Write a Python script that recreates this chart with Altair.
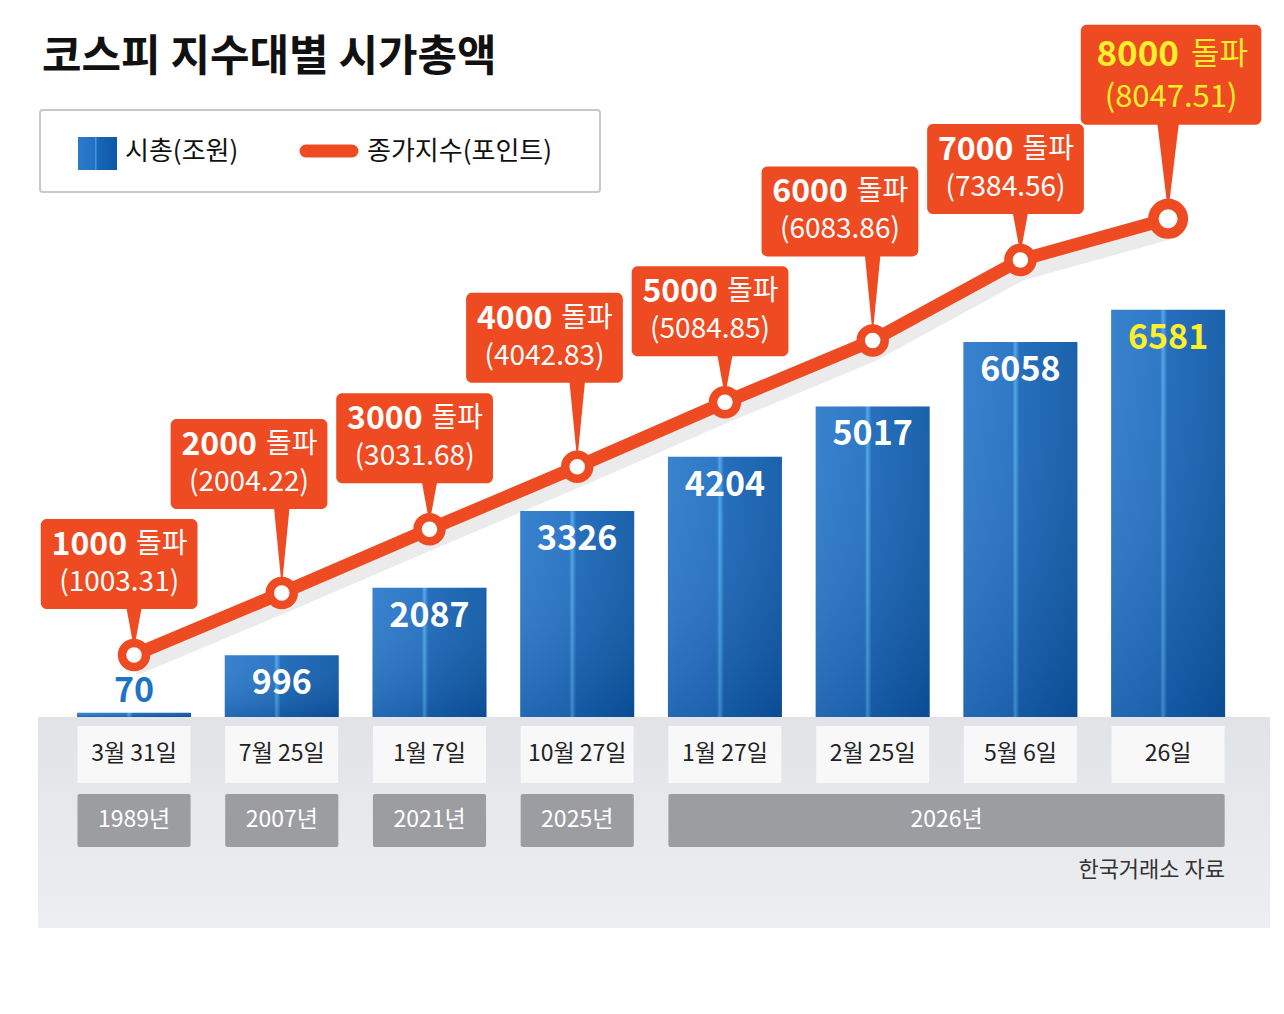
import altair as alt
import pandas as pd

# ---------------- data ----------------
dates = ["3월 31일", "7월 25일", "1월 7일", "10월 27일", "1월 27일", "2월 25일", "5월 6일", "26일"]
market_cap = [70, 996, 2087, 3326, 4204, 5017, 6058, 6581]          # 시총(조원)
kospi_close = [1003.31, 2004.22, 3031.68, 4042.83, 5084.85, 6083.86, 7384.56, 8047.51]  # 종가지수
milestones = [1000, 2000, 3000, 4000, 5000, 6000, 7000, 8000]
years = ["1989년", "2007년", "2021년", "2025년", "2026년"]
year_first = [0, 1, 2, 3, 4]
year_last = [0, 1, 2, 3, 7]

# ---------------- style / layout ----------------
FONT = "Noto Sans CJK KR"
ORANGE = "#ef4b22"
YELLOW = "#fdf02a"
W, H = 1268, 980
STEP = 148.9      # px per category
X0 = 122          # px of first category centre
KY = 0.0619       # px per value unit
Y0 = 709          # px of value 0
xs = alt.Scale(domain=[-X0 / STEP, (W - X0) / STEP], nice=False, zero=False)
ys = alt.Scale(domain=[-(H - Y0) / KY, Y0 / KY], nice=False, zero=False)


def X(f):
    return alt.X(f, type="quantitative", scale=xs, axis=None)


def Y(f):
    return alt.Y(f, type="quantitative", scale=ys, axis=None)


df = pd.DataFrame({"i": list(range(len(dates))), "date": dates, "cap": market_cap,
                   "close": kospi_close, "mile": milestones})
yr = pd.DataFrame({"year": years, "first": year_first, "last": year_last})
one = pd.DataFrame({"k": [0]})

HALF = 57 / STEP
LAST = "datum.i == 7"

bar_grad = alt.Gradient(gradient="linear", x1=0, y1=0, x2=1, y2=0, stops=[
    alt.GradientStop(color="#2c7acb", offset=0),
    alt.GradientStop(color="#2270c2", offset=0.43),
    alt.GradientStop(color="#47a3e8", offset=0.455),
    alt.GradientStop(color="#1966b8", offset=0.49),
    alt.GradientStop(color="#0c58a6", offset=1),
])
shade_grad = alt.Gradient(gradient="linear", x1=0, y1=0, x2=0, y2=1, stops=[
    alt.GradientStop(color="rgba(255,255,255,0.06)", offset=0),
    alt.GradientStop(color="rgba(0,25,70,0.18)", offset=1),
])
band_grad = alt.Gradient(gradient="linear", x1=0, y1=0, x2=0, y2=1, stops=[
    alt.GradientStop(color="#e1e3e7", offset=0),
    alt.GradientStop(color="#eceef1", offset=1),
])

# ---------------- bottom band ----------------
band = alt.Chart(one).mark_rect(color=band_grad).encode(
    x=alt.value(30), x2=alt.value(1262), y=alt.value(709), y2=alt.value(920))

dbox = alt.Chart(df).transform_calculate(
    dx1=f"datum.i - {HALF}", dx2=f"datum.i + {HALF}")
date_shadow = dbox.mark_rect(color="#cfd2d6", opacity=0.7, xOffset=2, yOffset=3).encode(
    x=X("dx1"), x2="dx2", y=alt.value(718), y2=alt.value(775))
date_box = dbox.mark_rect(color="#f8f8f8").encode(
    x=X("dx1"), x2="dx2", y=alt.value(718), y2=alt.value(775))
date_text = alt.Chart(df).mark_text(font=FONT, fontSize=23, color="#222", baseline="middle").encode(
    x=X("i"), y=alt.value(746), text="date:N")

ybox = alt.Chart(yr).transform_calculate(
    yx1=f"datum.first - {HALF}", yx2=f"datum.last + {HALF}",
    ymid="(datum.first + datum.last) / 2")
year_box = ybox.mark_rect(color="#9b9da0", cornerRadius=2).encode(
    x=X("yx1"), x2="yx2", y=alt.value(786), y2=alt.value(839))
year_text = ybox.mark_text(font=FONT, fontSize=23, color="white", baseline="middle").encode(
    x=X("ymid"), y=alt.value(812), text="year:N")

source = alt.Chart(one).mark_text(text="한국거래소 자료", font=FONT, fontSize=22, color="#333",
                                  align="right", baseline="middle").encode(
    x=alt.value(1217), y=alt.value(862))

# ---------------- bars ----------------
bbase = alt.Chart(df).transform_calculate(zero="0")
bars = bbase.mark_bar(size=114, color=bar_grad).encode(x=X("i"), y=Y("cap"), y2="zero:Q")
bars_shade = bbase.mark_bar(size=114, color=shade_grad).encode(x=X("i"), y=Y("cap"), y2="zero:Q")

lab_in = alt.Chart(df).transform_filter("datum.cap >= 500").mark_text(
    font=FONT, fontSize=34, fontWeight="bold", baseline="middle", dy=29).encode(
    x=X("i"), y=Y("cap"), text=alt.Text("cap:Q", format="d"),
    color=alt.condition(LAST, alt.value(YELLOW), alt.value("white")))
lab_out = alt.Chart(df).transform_filter("datum.cap < 500").mark_text(
    font=FONT, fontSize=34, fontWeight="bold", baseline="middle", dy=-21, color="#1f73c6").encode(
    x=X("i"), y=Y("cap"), text=alt.Text("cap:Q", format="d"))

# ---------------- index line ----------------
line_shadow = alt.Chart(df).mark_line(color="#000", opacity=0.08, strokeWidth=16, yOffset=13).encode(
    x=X("i"), y=Y("close"))
line = alt.Chart(df).mark_line(color=ORANGE, strokeWidth=13, strokeCap="round", strokeJoin="round").encode(
    x=X("i"), y=Y("close"))
points = alt.Chart(df).mark_circle(color="white", stroke=ORANGE, opacity=1).encode(
    x=X("i"), y=Y("close"),
    size=alt.condition(LAST, alt.value(870), alt.value(576)),
    strokeWidth=alt.condition(LAST, alt.value(10.5), alt.value(8.5)))

# ---------------- callouts ----------------
call = alt.Chart(df).transform_calculate(
    gap=f"{LAST} ? 94 : (datum.i % 2 ? 84 : 46)",
    dxc=f"{LAST} ? 3 : (datum.i % 2 ? -33 : -15)",
    bw=f"{LAST} ? 182 : 158",
    bh=f"{LAST} ? 100 : 90",
    bx1=f"datum.i + (datum.dxc - datum.bw / 2) / {STEP}",
    bx2=f"datum.i + (datum.dxc + datum.bw / 2) / {STEP}",
    by1=f"datum.close + datum.gap / {KY}",
    by2=f"datum.close + (datum.gap + datum.bh) / {KY}",
    cx=f"datum.i + datum.dxc / {STEP}",
    t1y=f"datum.close + (datum.gap + datum.bh - ({LAST} ? 30 : 26)) / {KY}",
    t2y=f"datum.close + (datum.gap + datum.bh - ({LAST} ? 73 : 64)) / {KY}",
    nx=f"datum.cx + 8 / {STEP}",
    px=f"datum.cx + ({LAST} ? 20 : 17) / {STEP}",
    lbl2="'(' + format(datum.close, '.2f') + ')'",
)
txt_color = alt.condition(LAST, alt.value(YELLOW), alt.value("white"))
boxes = call.mark_rect(color=ORANGE, cornerRadius=6).encode(
    x=X("bx1"), x2="bx2", y=Y("by1"), y2="by2")
num_txt = call.mark_text(font=FONT, fontWeight="bold", align="right", baseline="middle").encode(
    x=X("nx"), y=Y("t1y"), text=alt.Text("mile:Q", format="d"), color=txt_color,
    size=alt.condition(LAST, alt.value(35), alt.value(32)))
dolpa_txt = call.mark_text(font=FONT, text="돌파", align="left", baseline="middle").encode(
    x=X("px"), y=Y("t1y"), color=txt_color,
    size=alt.condition(LAST, alt.value(31), alt.value(28)))
val_txt = call.mark_text(font=FONT, align="center", baseline="middle").encode(
    x=X("cx"), y=Y("t2y"), text="lbl2:N", color=txt_color,
    size=alt.condition(LAST, alt.value(31), alt.value(28)))

ptr_df = df.loc[df.index.repeat(2)].reset_index(drop=True)
ptr_df["end"] = [0, 1] * len(df)
pointers = alt.Chart(ptr_df).transform_calculate(
    gap=f"{LAST} ? 94 : (datum.i % 2 ? 84 : 46)",
    hw=f"{LAST} ? 11 : 8",
    py=f"datum.end == 0 ? datum.close + (datum.gap + 3) / {KY} : datum.close + 6 / {KY}",
    px1=f"datum.end == 0 ? datum.i - datum.hw / {STEP} : datum.i",
    px2=f"datum.end == 0 ? datum.i + datum.hw / {STEP} : datum.i",
).mark_area(orient="horizontal", color=ORANGE, opacity=1).encode(
    y=Y("py"), x=X("px1"), x2="px2", detail="i:N")

# ---------------- title & legend ----------------
title = alt.Chart(one).mark_text(text="코스피 지수대별 시가총액", font=FONT, fontSize=43,
                                 fontWeight="bold", color="#111", align="left", baseline="middle").encode(
    x=alt.value(34), y=alt.value(50))
leg_box = alt.Chart(one).mark_rect(fill="white", stroke="#c8c8c8", strokeWidth=2, cornerRadius=3).encode(
    x=alt.value(32), x2=alt.value(592), y=alt.value(102), y2=alt.value(184))
leg_sq = alt.Chart(one).mark_rect(color=bar_grad).encode(
    x=alt.value(70), x2=alt.value(109), y=alt.value(129), y2=alt.value(162))
leg_ln = alt.Chart(one).mark_rule(color=ORANGE, strokeWidth=13, strokeCap="round").encode(
    x=alt.value(298), x2=alt.value(344), y=alt.value(143))
leg_t1 = alt.Chart(one).mark_text(text="시총(조원)", font=FONT, fontSize=26, color="#111",
                                  align="left", baseline="middle").encode(x=alt.value(117), y=alt.value(144))
leg_t2 = alt.Chart(one).mark_text(text="종가지수(포인트)", font=FONT, fontSize=26, color="#111",
                                  align="left", baseline="middle").encode(x=alt.value(359), y=alt.value(144))

chart = alt.layer(
    band, date_shadow, date_box, date_text, year_box, year_text, source,
    bars, bars_shade, lab_in, lab_out,
    line_shadow, line, pointers, boxes, num_txt, dolpa_txt, val_txt, points,
    leg_box, leg_sq, leg_ln, leg_t1, leg_t2, title,
).properties(width=W, height=H, padding=0, background="white",
             autosize=alt.AutoSizeParams(type="none")).configure_view(stroke=None)

chart.save("out.html", embed_options={"renderer": "svg", "actions": False})
